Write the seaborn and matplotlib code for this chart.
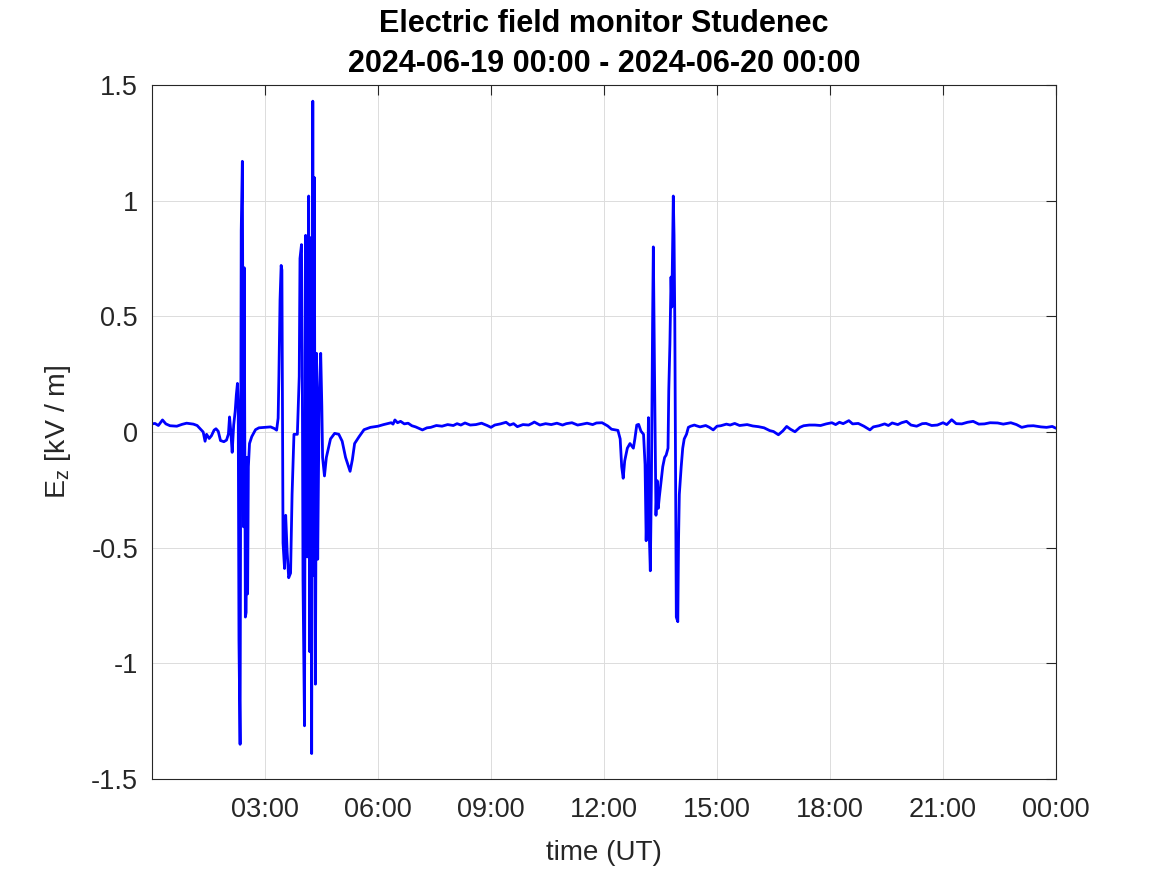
import matplotlib
matplotlib.use("Agg")
import matplotlib.pyplot as plt
import seaborn as sns
import pandas as pd
from matplotlib.ticker import FixedLocator, FixedFormatter

# 時刻 (UT, 時間) と鉛直電場 Ez [kV/m]
hours = [
    0.00, 0.08, 0.17, 0.28, 0.37, 0.48, 0.66, 0.80, 0.92, 1.10, 1.20, 1.27, 1.36, 1.41, 1.45,
    1.52, 1.58, 1.65, 1.70, 1.76, 1.82, 1.91, 1.98, 2.03, 2.06, 2.09, 2.13, 2.17, 2.21, 2.24,
    2.27, 2.29,
    2.31, 2.34, 2.37, 2.40, 2.43, 2.45, 2.48, 2.50, 2.52, 2.54, 2.56, 2.59, 2.65, 2.75, 2.84,
    3.00, 3.15, 3.25, 3.31,
    3.35, 3.37, 3.40, 3.43, 3.45, 3.47, 3.48, 3.52, 3.55, 3.59, 3.63, 3.68, 3.72, 3.77, 3.86,
    3.91, 3.93, 3.97, 3.99, 4.01, 4.05, 4.08, 4.12, 4.16, 4.19, 4.22, 4.24, 4.27, 4.29, 4.31,
    4.34, 4.37, 4.40, 4.44, 4.48, 4.51, 4.53, 4.58, 4.63, 4.74, 4.85, 4.96, 5.05, 5.14, 5.26,
    5.32, 5.38, 5.50, 5.63, 5.80, 6.00, 6.15, 6.35, 6.40, 6.45, 6.52, 6.60, 6.70, 6.80, 6.90,
    7.00, 7.18, 7.30, 7.40, 7.55, 7.70, 7.85, 8.00, 8.10, 8.20, 8.31, 8.45, 8.60, 8.75, 8.90,
    9.00, 9.10, 9.25, 9.40, 9.50, 9.60, 9.70, 9.85, 10.00, 10.10, 10.15, 10.30, 10.45, 10.60,
    10.75, 10.90, 11.00, 11.15, 11.30, 11.40, 11.55, 11.70, 11.80, 11.95,
    12.10, 12.20, 12.37, 12.43, 12.47, 12.51, 12.55, 12.62, 12.69, 12.78, 12.82, 12.87, 12.92,
    12.98, 13.05, 13.09, 13.12, 13.16, 13.18, 13.20, 13.23, 13.26, 13.29, 13.31, 13.34, 13.38,
    13.41, 13.44, 13.47, 13.52, 13.56, 13.61, 13.65, 13.70, 13.72, 13.75, 13.78, 13.80, 13.84,
    13.86, 13.88, 13.90, 13.92, 13.96, 13.98, 14.00, 14.05, 14.09, 14.13, 14.19, 14.24, 14.30,
    14.40, 14.45, 14.55, 14.70, 14.80, 14.90, 15.00, 15.10, 15.25, 15.35, 15.47, 15.60, 15.80,
    15.95, 16.10, 16.25, 16.40, 16.50, 16.63, 16.75, 16.85, 16.95, 17.07, 17.20, 17.30, 17.45,
    17.60, 17.75, 17.90, 18.05, 18.15, 18.25, 18.35, 18.50, 18.60, 18.75, 18.90, 19.06, 19.15,
    19.30, 19.45, 19.55, 19.65, 19.80, 19.90, 20.03, 20.15, 20.30, 20.45, 20.55, 20.70, 20.85,
    21.00, 21.10, 21.23, 21.35, 21.50, 21.65, 21.80, 21.95, 22.10, 22.25, 22.45, 22.60, 22.80,
    22.95, 23.09, 23.25, 23.40, 23.60, 23.75, 23.90, 24.00,
]
ez = [
    0.035, 0.037, 0.028, 0.052, 0.035, 0.027, 0.025, 0.033, 0.038, 0.034, 0.028, 0.016, 0.000, -0.040, -0.010,
    -0.028, -0.016, 0.008, 0.014, 0.003, -0.037, -0.042, -0.035, -0.009, 0.065, 0.010, -0.088, 0.030, 0.090, 0.160,
    0.210, 0.120,
    -0.90, -1.35, 0.87, 1.17, -0.41, 0.71, -0.80, -0.78, -0.11, -0.70, -0.15, -0.05, -0.02, 0.010, 0.018,
    0.020, 0.022, 0.015, 0.008,
    0.060, 0.24, 0.57, 0.72, 0.70, -0.10, -0.48, -0.59, -0.36, -0.52, -0.63, -0.61, -0.27, -0.01, -0.01,
    0.24, 0.75, 0.81, 0.34, -0.64, -1.27, 0.85, -0.54, 1.02, -0.95, 0.84, -1.39, 1.43, -0.62, 1.10,
    -1.09, 0.34, -0.55, 0.15, 0.34, 0.11, -0.11, -0.19, -0.11, -0.03, -0.006, -0.01, -0.04, -0.11, -0.17,
    -0.12, -0.05, -0.02, 0.010, 0.020, 0.025, 0.032, 0.040, 0.034, 0.052, 0.040, 0.046, 0.035, 0.038, 0.027,
    0.022, 0.009, 0.018, 0.020, 0.028, 0.025, 0.032, 0.028, 0.036, 0.030, 0.039, 0.030, 0.032, 0.038, 0.028,
    0.020, 0.030, 0.035, 0.042, 0.030, 0.036, 0.023, 0.032, 0.030, 0.038, 0.043, 0.030, 0.036, 0.032,
    0.038, 0.030, 0.036, 0.040, 0.030, 0.033, 0.038, 0.032, 0.039, 0.040,
    0.026, 0.012, 0.007, -0.030, -0.15, -0.20, -0.125, -0.07, -0.05, -0.07, -0.03, 0.030, 0.033,
    0.004, -0.010, -0.14, -0.47, -0.20, 0.062, -0.43, -0.60, -0.20, 0.47, 0.80, 0.28, -0.36,
    -0.21, -0.33, -0.28, -0.21, -0.15, -0.11, -0.10, -0.07, 0.18, 0.38, 0.67, 0.54, 1.02,
    0.85, 0.48, -0.21, -0.80, -0.82, -0.46, -0.27, -0.15, -0.07, -0.03, -0.01, 0.020, 0.025,
    0.030, 0.027, 0.022, 0.028, 0.020, 0.009, 0.025, 0.027, 0.034, 0.030, 0.037, 0.028, 0.032,
    0.026, 0.023, 0.018, 0.006, 0.002, -0.012, 0.005, 0.024, 0.012, 0.001, 0.020, 0.027, 0.030,
    0.030, 0.028, 0.035, 0.040, 0.032, 0.042, 0.036, 0.049, 0.035, 0.037, 0.025, 0.009, 0.022,
    0.027, 0.035, 0.028, 0.039, 0.032, 0.040, 0.046, 0.030, 0.025, 0.036, 0.037, 0.028, 0.030,
    0.040, 0.032, 0.053, 0.036, 0.035, 0.042, 0.046, 0.034, 0.035, 0.040, 0.039, 0.034, 0.040,
    0.032, 0.020, 0.026, 0.027, 0.022, 0.020, 0.024, 0.016,
]

xtick_pos = [3, 6, 9, 12, 15, 18, 21, 24]
xtick_labels = ["03:00", "06:00", "09:00", "12:00", "15:00", "18:00", "21:00", "00:00"]
ytick_pos = [-1.5, -1, -0.5, 0, 0.5, 1, 1.5]
ytick_labels = ["-1.5", "-1", "-0.5", "0", "0.5", "1", "1.5"]

df = pd.DataFrame({"hour": hours, "ez": ez})

sns.set_style("white")
plt.rcParams["font.family"] = ["Liberation Sans", "DejaVu Sans"]
plt.rcParams["mathtext.fontset"] = "custom"
plt.rcParams["mathtext.rm"] = "Liberation Sans"
plt.rcParams["mathtext.it"] = "Liberation Sans"

fig = plt.figure(figsize=(11.67, 8.75), dpi=100)
ax = fig.add_axes([0.1302, 0.1097, 0.7747, 0.7932])

sns.lineplot(data=df, x="hour", y="ez", ax=ax, color="#0000ff", linewidth=2.0,
             estimator=None, sort=False)

ax.set_xlim(0, 24)
ax.set_ylim(-1.5, 1.5)
ax.xaxis.set_major_locator(FixedLocator(xtick_pos))
ax.xaxis.set_major_formatter(FixedFormatter(xtick_labels))
ax.yaxis.set_major_locator(FixedLocator(ytick_pos))
ax.yaxis.set_major_formatter(FixedFormatter(ytick_labels))

ax.grid(True, color="#dcdcdc", linewidth=0.7)
ax.tick_params(direction="in", length=7, width=0.8, colors="#262626",
               labelsize=19.5, top=True, right=True)
ax.tick_params(axis="x", pad=13)
ax.tick_params(axis="y", pad=10)
for s in ax.spines.values():
    s.set_color("#262626")
    s.set_linewidth(0.8)

ax.set_xlabel("time (UT)", fontsize=20, color="#262626", labelpad=12)
ax.set_ylabel("E$_{\\mathrm{z}}$ [kV / m]", fontsize=20.5, color="#262626", labelpad=13)
ax.set_title("Electric field monitor Studenec\n2024-06-19 00:00 - 2024-06-20 00:00",
             fontsize=22, fontweight="bold", color="black", pad=9, linespacing=1.45)

fig.savefig("out.png", dpi=100)
